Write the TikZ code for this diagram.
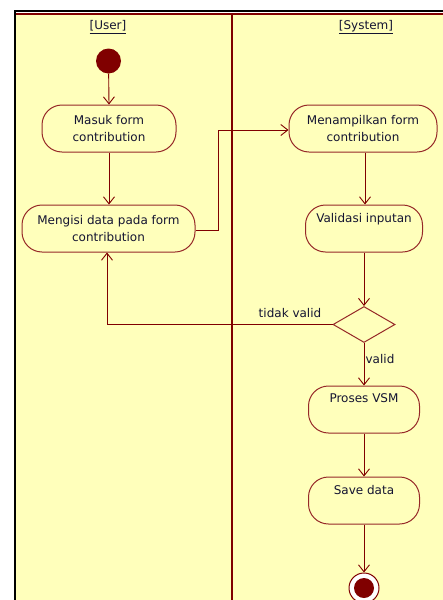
\documentclass[tikz,border=0pt]{standalone}
\usepackage{fontspec}
\setmainfont{DejaVu Sans}
\usetikzlibrary{arrows.meta,shapes.geometric}
\definecolor{bgy}{RGB}{255,255,187}
\definecolor{dred}{RGB}{128,0,0}
\definecolor{nred}{RGB}{150,40,40}
\definecolor{txt}{RGB}{20,20,50}
\tikzset{
  act/.style={draw=nred, line width=1pt, fill=bgy, rounded corners=20pt, align=center,
    font=\fontsize{12}{17}\selectfont, text=txt, inner sep=0pt, minimum height=47pt},
  flow/.style={draw=dred, line width=0.9pt, -{Straight Barb[length=7pt,width=11pt,line width=0.9pt]}},
  lane/.style={font=\fontsize{12}{13}\selectfont, text=txt},
  lbl/.style={font=\fontsize{12}{13}\selectfont, text=txt, inner sep=0pt},
}
\begin{document}
\begin{tikzpicture}[x=1pt,y=-1pt]
\useasboundingbox (0,0) rectangle (443,600);
\begin{scope}
\clip (0,0) rectangle (443,600);
\fill[bgy] (15,13) rectangle (443,600);
\draw[black, line width=2.5pt] (15,11) -- (443,11);
\draw[black, line width=2.5pt] (15,10) -- (15,600);
\draw[dred, line width=1.5pt] (16,14) -- (443,14);
\draw[dred, line width=2pt] (232,14) -- (232,600);

\node[lane] (user) at (108,27) {\underline{[User]}};
\node[lane] (sys) at (366,27) {\underline{[System]}};

\node[circle, fill=dred, minimum size=25pt, inner sep=0pt] (start) at (108.5,61) {};
\node[act, minimum width=134pt] (masuk) at (109,128.5) {Masuk form\\contribution};
\node[act, minimum width=173pt] (isi) at (108.5,228.5) {Mengisi data pada form\\contribution};
\node[act, minimum width=148pt] (tampil) at (363,128.5) {Menampilkan form\\contribution};
\node[act, minimum width=117pt] (valid) at (364,228.5) {Validasi inputan\\\strut};
\node[diamond, draw=nred, line width=1pt, fill=bgy, minimum width=62pt, minimum height=36pt, inner sep=0pt, aspect=1.7] (dia) at (364,324.5) {};
\node[act, minimum width=111pt] (vsm) at (364,409.5) {Proses VSM\\\strut};
\node[act, minimum width=111pt] (save) at (364,500.5) {Save data\\\strut};
\node[circle, draw=dred, line width=1pt, fill=white, minimum size=30pt, inner sep=0pt] (end) at (364,588) {};
\node[circle, fill=dred, minimum size=20pt, inner sep=0pt] (endin) at (end.center) {};

\draw[flow] (start) -- (masuk.north);
\draw[flow] (masuk.south) -- (isi.north -| masuk.south);
\coordinate (c1) at (218,230);
\coordinate (c2) at (218,130);
\draw[flow] (isi.east |- c1) -- (c1) -- (c2) -- (tampil.west |- c2);
\draw[flow] (tampil.south -| 365,0) -- (valid.north -| 365,0);
\draw[flow] (valid.south) -- (dia.north);
\coordinate (c3) at (107,324.5);
\draw[flow] (dia.west) -- (c3) -- (isi.south -| c3);
\draw[flow] (dia.south) -- (vsm.north);
\draw[flow] (vsm.south) -- (save.north);
\draw[flow] (save.south) -- (end.north);

\node[lbl] (tv) at (290,313) {tidak valid};
\node[lbl] (vl) at (380,359) {valid};
\end{scope}
\end{tikzpicture}
\end{document}
